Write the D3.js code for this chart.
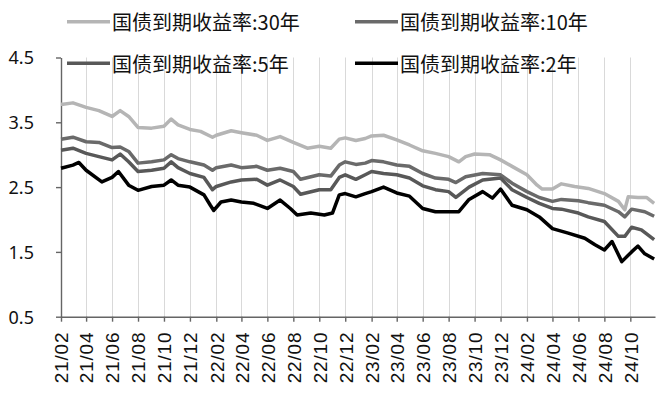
<!DOCTYPE html>
<meta charset="utf-8">
<style>
  body { margin: 0; background: #fff; }
  .line { fill: none; stroke-width: 3.5; stroke-linejoin: round; }
  .grid line { stroke: #d9d9d9; stroke-width: 1; }
  .axis path, .axis line { stroke: #656565; stroke-width: 1.4; }
  .y.axis text { font-family: "Noto Sans", sans-serif; font-size: 18px; fill: #111; }
  .x.axis text { font-family: "Liberation Sans", Arial, sans-serif; font-size: 19px; fill: #111; letter-spacing: 0.8px; }
  .legend text { font-family: "Noto Sans CJK SC", sans-serif; font-size: 20px; fill: #111; }
</style>
<body></body>
<script src="https://d3js.org/d3.v7.min.js"></script>
<script>

// series names (legend order)
var names = ["国债到期收益率:30年", "国债到期收益率:10年", "国债到期收益率:5年", "国债到期收益率:2年"];

// readings: [date, yield %]
var y30 = [
  ["2021-02-01", 3.78], ["2021-02-06", 3.78], ["2021-03-01", 3.80], ["2021-04-01", 3.73],
  ["2021-05-01", 3.68], ["2021-06-01", 3.59], ["2021-06-20", 3.68], ["2021-07-10", 3.59],
  ["2021-08-01", 3.42], ["2021-09-02", 3.41], ["2021-10-01", 3.44], ["2021-10-18", 3.55],
  ["2021-11-03", 3.46], ["2021-12-01", 3.39], ["2021-12-26", 3.36], ["2022-01-23", 3.27],
  ["2022-02-01", 3.30], ["2022-03-08", 3.37], ["2022-04-01", 3.34], ["2022-05-07", 3.30],
  ["2022-06-01", 3.22], ["2022-07-01", 3.28], ["2022-08-01", 3.19], ["2022-09-03", 3.10],
  ["2022-10-01", 3.13], ["2022-10-28", 3.10], ["2022-11-17", 3.24], ["2022-12-01", 3.26],
  ["2022-12-26", 3.22], ["2023-01-17", 3.25], ["2023-02-01", 3.29], ["2023-03-01", 3.30],
  ["2023-04-01", 3.23], ["2023-05-01", 3.15], ["2023-06-01", 3.06], ["2023-07-01", 3.02],
  ["2023-08-01", 2.97], ["2023-08-25", 2.89], ["2023-09-10", 2.97], ["2023-10-01", 3.01],
  ["2023-11-05", 3.00], ["2023-12-01", 2.92], ["2023-12-28", 2.82], ["2024-02-01", 2.69],
  ["2024-02-25", 2.53], ["2024-03-08", 2.47], ["2024-04-01", 2.47], ["2024-04-22", 2.55],
  ["2024-05-23", 2.51], ["2024-06-24", 2.48], ["2024-08-01", 2.40], ["2024-09-03", 2.28],
  ["2024-09-18", 2.15], ["2024-09-26", 2.35], ["2024-10-19", 2.34], ["2024-11-08", 2.34],
  ["2024-11-26", 2.25]
];

var y10 = [
  ["2021-02-01", 3.24], ["2021-03-01", 3.27], ["2021-04-01", 3.20], ["2021-05-01", 3.19],
  ["2021-06-01", 3.11], ["2021-06-20", 3.12], ["2021-07-10", 3.05], ["2021-08-01", 2.87],
  ["2021-09-02", 2.89], ["2021-10-01", 2.92], ["2021-10-18", 3.00], ["2021-11-03", 2.94],
  ["2021-12-01", 2.89], ["2022-01-03", 2.84], ["2022-01-23", 2.76], ["2022-02-01", 2.80],
  ["2022-03-08", 2.84], ["2022-04-01", 2.80], ["2022-05-07", 2.82], ["2022-06-01", 2.76],
  ["2022-07-01", 2.79], ["2022-08-01", 2.74], ["2022-08-18", 2.62], ["2022-10-01", 2.69],
  ["2022-10-28", 2.67], ["2022-11-17", 2.84], ["2022-12-01", 2.89], ["2022-12-26", 2.85],
  ["2023-01-17", 2.87], ["2023-02-01", 2.91], ["2023-03-01", 2.89], ["2023-04-01", 2.84],
  ["2023-05-01", 2.82], ["2023-06-01", 2.71], ["2023-07-01", 2.64], ["2023-08-01", 2.62],
  ["2023-08-18", 2.57], ["2023-09-10", 2.66], ["2023-10-20", 2.71], ["2023-12-01", 2.69],
  ["2023-12-28", 2.56], ["2024-02-01", 2.43], ["2024-03-01", 2.34], ["2024-04-01", 2.28],
  ["2024-04-22", 2.31], ["2024-06-01", 2.29], ["2024-06-24", 2.26], ["2024-08-01", 2.22],
  ["2024-09-03", 2.12], ["2024-09-18", 2.04], ["2024-10-04", 2.16], ["2024-11-04", 2.12],
  ["2024-11-26", 2.05]
];

var y5 = [
  ["2021-02-01", 3.07], ["2021-03-01", 3.10], ["2021-04-01", 3.02], ["2021-05-01", 2.97],
  ["2021-06-01", 2.92], ["2021-06-20", 3.01], ["2021-07-10", 2.89], ["2021-08-01", 2.74],
  ["2021-09-02", 2.76], ["2021-10-01", 2.79], ["2021-10-18", 2.89], ["2021-11-03", 2.80],
  ["2021-12-01", 2.71], ["2022-01-03", 2.65], ["2022-01-23", 2.46], ["2022-02-01", 2.51],
  ["2022-03-08", 2.58], ["2022-04-01", 2.61], ["2022-05-07", 2.62], ["2022-06-01", 2.53],
  ["2022-07-01", 2.61], ["2022-08-01", 2.51], ["2022-08-18", 2.39], ["2022-10-01", 2.46],
  ["2022-10-28", 2.46], ["2022-11-17", 2.65], ["2022-12-01", 2.69], ["2022-12-26", 2.62],
  ["2023-01-17", 2.69], ["2023-02-01", 2.74], ["2023-03-01", 2.71], ["2023-04-01", 2.69],
  ["2023-05-01", 2.64], ["2023-06-01", 2.52], ["2023-07-01", 2.46], ["2023-08-01", 2.43],
  ["2023-08-18", 2.34], ["2023-09-18", 2.50], ["2023-10-20", 2.61], ["2023-12-01", 2.64],
  ["2023-12-28", 2.46], ["2024-02-01", 2.34], ["2024-03-01", 2.25], ["2024-04-01", 2.17],
  ["2024-04-22", 2.16], ["2024-06-01", 2.10], ["2024-06-24", 2.04], ["2024-08-01", 1.97],
  ["2024-09-03", 1.74], ["2024-09-18", 1.74], ["2024-10-04", 1.88], ["2024-10-27", 1.84],
  ["2024-11-26", 1.69]
];

var y2 = [
  ["2021-02-01", 2.79], ["2021-03-01", 2.84], ["2021-03-15", 2.88], ["2021-04-01", 2.76],
  ["2021-05-08", 2.58], ["2021-06-01", 2.65], ["2021-06-16", 2.74], ["2021-07-10", 2.53],
  ["2021-08-01", 2.45], ["2021-09-02", 2.51], ["2021-10-01", 2.53], ["2021-10-18", 2.61],
  ["2021-11-03", 2.53], ["2021-12-01", 2.50], ["2022-01-03", 2.38], ["2022-01-18", 2.22],
  ["2022-01-26", 2.14], ["2022-02-12", 2.27], ["2022-03-08", 2.30], ["2022-04-01", 2.27],
  ["2022-04-30", 2.25], ["2022-06-01", 2.17], ["2022-07-01", 2.30], ["2022-07-25", 2.17],
  ["2022-08-10", 2.07], ["2022-09-11", 2.10], ["2022-10-13", 2.07], ["2022-11-01", 2.10],
  ["2022-11-17", 2.38], ["2022-12-01", 2.40], ["2022-12-26", 2.35], ["2023-01-17", 2.40],
  ["2023-02-01", 2.43], ["2023-03-01", 2.50], ["2023-04-01", 2.41], ["2023-05-01", 2.36],
  ["2023-06-01", 2.17], ["2023-07-01", 2.12], ["2023-08-01", 2.12], ["2023-08-25", 2.12],
  ["2023-09-18", 2.31], ["2023-10-20", 2.43], ["2023-11-12", 2.33], ["2023-12-01", 2.47],
  ["2023-12-28", 2.22], ["2024-02-01", 2.15], ["2024-03-01", 2.04], ["2024-04-01", 1.86],
  ["2024-05-08", 1.79], ["2024-06-16", 1.71], ["2024-07-10", 1.61], ["2024-08-01", 1.53],
  ["2024-08-19", 1.66], ["2024-09-11", 1.35], ["2024-10-04", 1.50], ["2024-10-19", 1.59],
  ["2024-11-04", 1.47], ["2024-11-26", 1.39]
];

var yTicks = [4.5, 3.5, 2.5, 1.5, 0.5];

var series = [y30, y10, y5, y2];
var colors = ["#b5b5b5", "#6a6a6a", "#585858", "#000000"];

var parse = d3.timeParse("%Y-%m-%d");

var width = 666, height = 394;
var plotLeft = 61, plotRight = 655, plotTop = 57.5, plotBottom = 316.7;

var svg = d3.select("body").append("svg")
    .attr("width", width)
    .attr("height", height);

// x is a time axis, ticks every 2 months from 21/02
var xScale = d3.scaleTime()
    .domain([new Date(2021, 1, 1), new Date(2024, 10, 28)])
    .range([plotLeft, plotRight]);
var yScale = d3.scaleLinear()
    .domain([0.5, 4.5])
    .range([plotBottom, plotTop]);

var xTicks = d3.timeMonth.range(new Date(2021, 1, 1), new Date(2024, 10, 2), 2);

// vertical gridlines
svg.append("g")
    .attr("class", "grid")
  .selectAll("line")
  .data(xTicks.slice(1))
  .enter().append("line")
    .attr("x1", function(d) { return Math.round(xScale(d)) + 0.5; })
    .attr("x2", function(d) { return Math.round(xScale(d)) + 0.5; })
    .attr("y1", plotTop)
    .attr("y2", plotBottom);

// y axis
var yAxis = svg.append("g")
    .attr("class", "y axis")
    .attr("transform", "translate(" + plotLeft + ",0)")
    .call(d3.axisLeft(yScale).tickValues(yTicks).tickFormat(d3.format(".1f")).tickSizeInner(5).tickSizeOuter(0).tickPadding(22));
yAxis.selectAll("text").attr("dy", "0.36em");

// x axis
var xAxis = svg.append("g")
    .attr("class", "x axis")
    .attr("transform", "translate(0," + plotBottom + ")")
    .call(d3.axisBottom(xScale).tickValues(xTicks).tickFormat(d3.timeFormat("%y/%m")).tickSizeInner(5).tickSizeOuter(0));
xAxis.selectAll("text")
    .attr("transform", "rotate(-90)")
    .attr("text-anchor", "end")
    .attr("x", -15)
    .attr("y", 0)
    .attr("dy", "0.36em");

// lines
var line = d3.line()
    .x(function(d) { return xScale(parse(d[0])); })
    .y(function(d) { return yScale(d[1]); });

series.forEach(function(s, i) {
  svg.append("path")
      .datum(s)
      .attr("class", "line")
      .attr("stroke", colors[i])
      .attr("d", line);
});

// legend, 2 x 2
var legendPos = [[67, 21.7], [355, 21.7], [67, 63.3], [355, 63.3]];
var legend = svg.append("g").attr("class", "legend");
names.forEach(function(n, i) {
  var p = legendPos[i];
  legend.append("line")
      .attr("x1", p[0]).attr("x2", p[0] + 43)
      .attr("y1", p[1]).attr("y2", p[1])
      .attr("stroke", colors[i])
      .attr("stroke-width", 3.5);
  legend.append("text")
      .attr("x", p[0] + 45)
      .attr("y", p[1] + 8.5)
      .text(n);
});

</script>
